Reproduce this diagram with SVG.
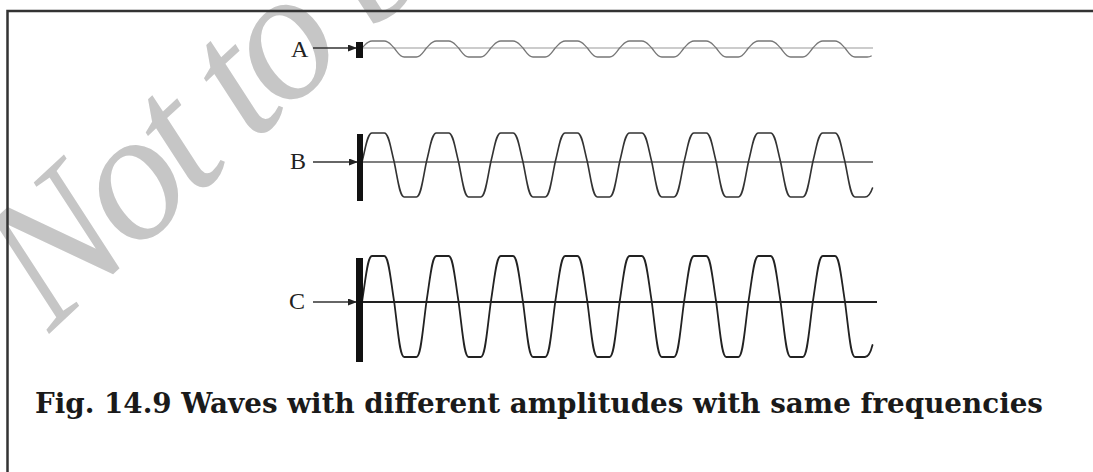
<svg xmlns="http://www.w3.org/2000/svg" width="1093" height="472" viewBox="0 0 1093 472">
<style>
.lbl{font-family:"Liberation Serif","Times New Roman",serif;font-size:24px;fill:#222}
.wm{font-family:"Liberation Serif",serif;font-style:italic;font-size:185px;letter-spacing:-9px;fill:#c6c6c6}
.cap{font-family:"DejaVu Serif","Liberation Serif",serif;font-weight:bold;font-size:27px;fill:#1a1a1a}
.arr{stroke:#333;stroke-width:1.5;fill:none}
.wave{fill:none;stroke-linejoin:round;stroke-linecap:round}
</style>
<defs>
<marker id="ah" markerWidth="9" markerHeight="7" refX="8" refY="3.5" orient="auto" markerUnits="userSpaceOnUse">
<path d="M0,0 L9,3.5 L0,7 z" fill="#222"/>
</marker>
</defs>
<rect width="1093" height="472" fill="#fff"/>
<text class="wm" transform="translate(50,333) rotate(-43)">Not to be republished</text>
<path d="M7.5,472 V11 H1093" fill="none" stroke="#333" stroke-width="2.5"/>

<g id="waveA">
<line x1="363" y1="48" x2="873" y2="48" stroke="#bbb" stroke-width="1.5"/>
<path class="wave" stroke="#777" stroke-width="1.3" d="M362,48
c 4,-3.85 5.5,-7 10,-7 h 12.2 c 4.5,0 6,3.15 10,7 c 4,4.95 5.5,9 10,9 h 12.2 c 4.5,0 6,-4.05 10,-9
c 4,-3.85 5.5,-7 10,-7 h 12.2 c 4.5,0 6,3.15 10,7 c 4,4.95 5.5,9 10,9 h 12.2 c 4.5,0 6,-4.05 10,-9
c 4,-3.85 5.5,-7 10,-7 h 12.2 c 4.5,0 6,3.15 10,7 c 4,4.95 5.5,9 10,9 h 12.2 c 4.5,0 6,-4.05 10,-9
c 4,-3.85 5.5,-7 10,-7 h 12.2 c 4.5,0 6,3.15 10,7 c 4,4.95 5.5,9 10,9 h 12.2 c 4.5,0 6,-4.05 10,-9
c 4,-3.85 5.5,-7 10,-7 h 12.2 c 4.5,0 6,3.15 10,7 c 4,4.95 5.5,9 10,9 h 12.2 c 4.5,0 6,-4.05 10,-9
c 4,-3.85 5.5,-7 10,-7 h 12.2 c 4.5,0 6,3.15 10,7 c 4,4.95 5.5,9 10,9 h 12.2 c 4.5,0 6,-4.05 10,-9
c 4,-3.85 5.5,-7 10,-7 h 12.2 c 4.5,0 6,3.15 10,7 c 4,4.95 5.5,9 10,9 h 12.2 c 4.5,0 6,-4.05 10,-9
c 4,-3.85 5.5,-7 10,-7 h 12.2 c 4.5,0 6,3.15 10,7 c 4,4.95 5.5,9 10,9 h 12.2 c 2,0 3,-0.3 4,-1"/>
<rect x="356" y="42" width="7" height="16" fill="#111"/>
<text class="lbl" x="291" y="57">A</text>
</g>

<g id="waveB">
<line x1="363" y1="162" x2="873" y2="162" stroke="#555" stroke-width="1.5"/>
<path class="wave" stroke="#333" stroke-width="1.6" d="M362,162
c 4,-15.95 5.5,-29 10,-29 h 12.2 c 4.5,0 6,13.05 10,29 c 4,19.25 5.5,35 10,35 h 12.2 c 4.5,0 6,-15.75 10,-35
c 4,-15.95 5.5,-29 10,-29 h 12.2 c 4.5,0 6,13.05 10,29 c 4,19.25 5.5,35 10,35 h 12.2 c 4.5,0 6,-15.75 10,-35
c 4,-15.95 5.5,-29 10,-29 h 12.2 c 4.5,0 6,13.05 10,29 c 4,19.25 5.5,35 10,35 h 12.2 c 4.5,0 6,-15.75 10,-35
c 4,-15.95 5.5,-29 10,-29 h 12.2 c 4.5,0 6,13.05 10,29 c 4,19.25 5.5,35 10,35 h 12.2 c 4.5,0 6,-15.75 10,-35
c 4,-15.95 5.5,-29 10,-29 h 12.2 c 4.5,0 6,13.05 10,29 c 4,19.25 5.5,35 10,35 h 12.2 c 4.5,0 6,-15.75 10,-35
c 4,-15.95 5.5,-29 10,-29 h 12.2 c 4.5,0 6,13.05 10,29 c 4,19.25 5.5,35 10,35 h 12.2 c 4.5,0 6,-15.75 10,-35
c 4,-15.95 5.5,-29 10,-29 h 12.2 c 4.5,0 6,13.05 10,29 c 4,19.25 5.5,35 10,35 h 12.2 c 4.5,0 6,-15.75 10,-35
c 4,-15.95 5.5,-29 10,-29 h 12.2 c 4.5,0 6,13.05 10,29 c 4,19.25 5.5,35 10,35 h 10 c 3.5,0 5.5,-3 7.5,-9"/>
<rect x="357" y="134" width="6" height="67" fill="#111"/>
<text class="lbl" x="290" y="169">B</text>
</g>

<g id="waveC">
<line x1="363" y1="302" x2="877" y2="302" stroke="#222" stroke-width="1.8"/>
<path class="wave" stroke="#222" stroke-width="1.8" d="M362,302
c 4,-25.3 5.5,-46 10,-46 h 12.2 c 4.5,0 6,20.7 10,46 c 4,30.25 5.5,55 10,55 h 12.2 c 4.5,0 6,-24.75 10,-55
c 4,-25.3 5.5,-46 10,-46 h 12.2 c 4.5,0 6,20.7 10,46 c 4,30.25 5.5,55 10,55 h 12.2 c 4.5,0 6,-24.75 10,-55
c 4,-25.3 5.5,-46 10,-46 h 12.2 c 4.5,0 6,20.7 10,46 c 4,30.25 5.5,55 10,55 h 12.2 c 4.5,0 6,-24.75 10,-55
c 4,-25.3 5.5,-46 10,-46 h 12.2 c 4.5,0 6,20.7 10,46 c 4,30.25 5.5,55 10,55 h 12.2 c 4.5,0 6,-24.75 10,-55
c 4,-25.3 5.5,-46 10,-46 h 12.2 c 4.5,0 6,20.7 10,46 c 4,30.25 5.5,55 10,55 h 12.2 c 4.5,0 6,-24.75 10,-55
c 4,-25.3 5.5,-46 10,-46 h 12.2 c 4.5,0 6,20.7 10,46 c 4,30.25 5.5,55 10,55 h 12.2 c 4.5,0 6,-24.75 10,-55
c 4,-25.3 5.5,-46 10,-46 h 12.2 c 4.5,0 6,20.7 10,46 c 4,30.25 5.5,55 10,55 h 12.2 c 4.5,0 6,-24.75 10,-55
c 4,-25.3 5.5,-46 10,-46 h 12.2 c 4.5,0 6,20.7 10,46 c 4,30.25 5.5,55 10,55 h 10 c 3.5,0 5.5,-4 7.5,-12"/>
<rect x="356" y="258" width="7" height="104" fill="#111"/>
<text class="lbl" x="289" y="309">C</text>
</g>

<g id="connectors">
<line class="arr" x1="313" y1="48" x2="356" y2="48" marker-end="url(#ah)"/>
<line class="arr" x1="313" y1="162" x2="357" y2="162" marker-end="url(#ah)"/>
<line class="arr" x1="313" y1="302" x2="356" y2="302" marker-end="url(#ah)"/>
</g>

<g id="caption">
<text class="cap" x="35" y="413" textLength="1008" lengthAdjust="spacingAndGlyphs">Fig. 14.9 Waves with different amplitudes with same frequencies</text>
</g>
</svg>
